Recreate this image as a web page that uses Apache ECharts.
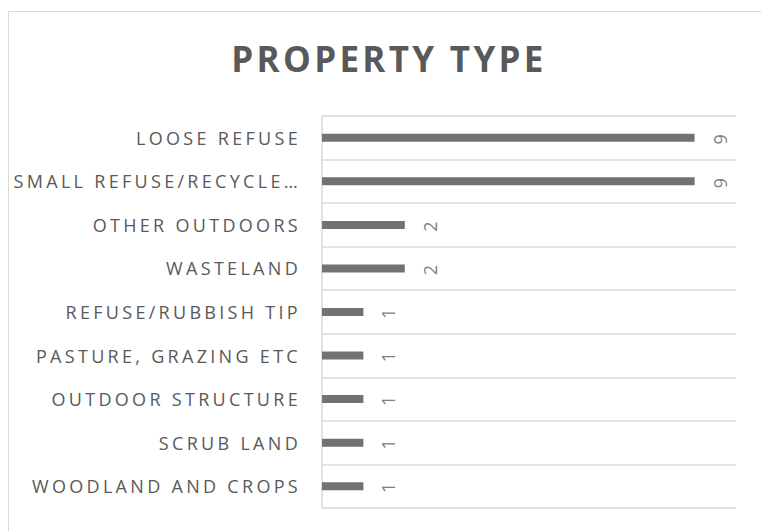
<!DOCTYPE html>
<html>
<head>
<meta charset="utf-8">
<script src="https://cdn.jsdelivr.net/npm/echarts@6/dist/echarts.min.js"></script>
<style>
  html, body { margin: 0; padding: 0; background: #fff; }
  #chart { width: 761px; height: 531px; }
  /* Excel-style spaced caps */
  #chart svg text { letter-spacing: 3.3px; }
</style>
</head>
<body>
<div id="chart"></div>
<script>
const titleText = 'PROPERTY TYPE';
const categories = [
  'LOOSE REFUSE',
  'SMALL REFUSE/RECYCLE…',
  'OTHER OUTDOORS',
  'WASTELAND',
  'REFUSE/RUBBISH TIP',
  'PASTURE, GRAZING ETC',
  'OUTDOOR STRUCTURE',
  'SCRUB LAND',
  'WOODLAND AND CROPS'
];
const counts = [9, 9, 2, 2, 1, 1, 1, 1, 1];

const chart = echarts.init(document.getElementById('chart'), null, { renderer: 'svg' });

const option = {
  animation: false,
  backgroundColor: '#fff',
  title: {
    text: titleText,
    left: 384,
    top: 36,
    textAlign: 'center',
    textStyle: {
      fontFamily: 'Open Sans',
      fontWeight: 'bold',
      fontSize: 35,
      color: '#595959'
    }
  },
  graphic: [{
    type: 'rect',
    shape: { x: 8.5, y: 11.5, width: 900, height: 900 },
    style: { fill: 'none', stroke: '#d9d9d9', lineWidth: 1 },
    silent: true
  }],
  grid: { left: 322, right: 25, top: 116, bottom: 23 },
  xAxis: {
    type: 'value',
    min: 0,
    max: 10,
    axisLine: { show: false },
    axisTick: { show: false },
    axisLabel: { show: false },
    splitLine: { show: false }
  },
  yAxis: {
    type: 'category',
    inverse: true,
    data: categories,
    axisLine: { show: true, lineStyle: { color: '#d9d9d9', width: 1.5 } },
    axisTick: { show: false },
    axisLabel: {
      margin: 21,
      fontFamily: 'Open Sans',
      fontSize: 18,
      color: '#595959'
    },
    splitLine: { show: true, lineStyle: { color: '#d9d9d9', width: 1.5 } }
  },
  series: [{
    type: 'bar',
    data: counts,
    barWidth: 8,
    itemStyle: { color: '#767171' },
    label: {
      show: true,
      position: 'right',
      distance: 25,
      rotate: 90,
      align: 'center',
      verticalAlign: 'middle',
      fontFamily: 'Open Sans',
      fontSize: 18,
      color: '#808080'
    }
  }]
};

option && chart.setOption(option);
</script>
</body>
</html>
